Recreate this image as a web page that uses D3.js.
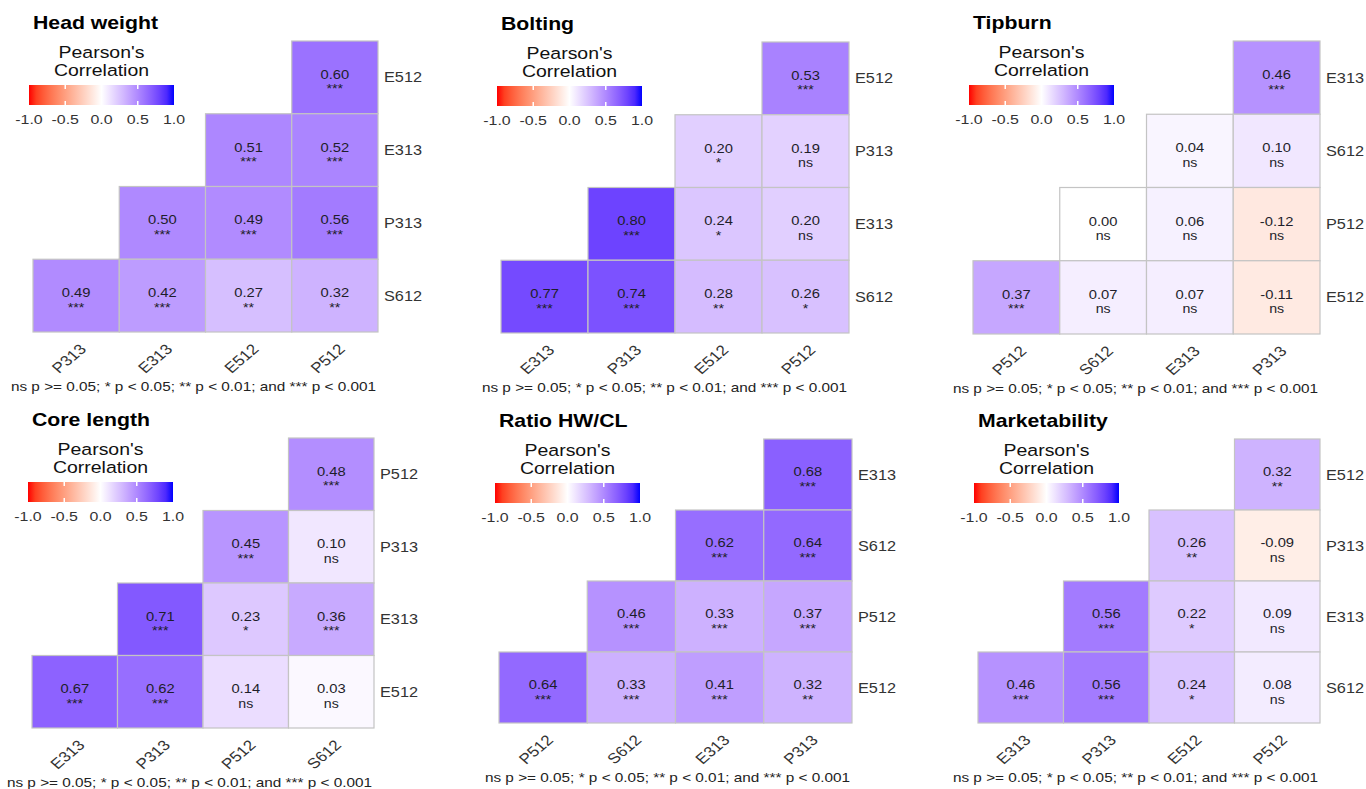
<!DOCTYPE html>
<html>
<head>
<meta charset="utf-8">
<script src="https://cdn.jsdelivr.net/npm/d3@7"></script>
<style>
  html, body { margin: 0; padding: 0; background: #fff; }
  svg { display: block; font-family: "Liberation Sans", Arial, sans-serif; }
</style>
</head>
<body>
<svg id="chart" width="1366" height="789"></svg>
<script>
// ---- Correlation data, one block per trait ----
// Values are listed row by row (top row first); row i holds the i+1 right-most cells.

const headWeightCols = ["P313", "E313", "E512", "P512"];
const headWeightRows = ["E512", "E313", "P313", "S612"];
const headWeightR = [[0.60], [0.51, 0.52], [0.50, 0.49, 0.56], [0.49, 0.42, 0.27, 0.32]];
const headWeightSig = [["***"], ["***", "***"], ["***", "***", "***"], ["***", "***", "**", "**"]];

const boltingCols = ["E313", "P313", "E512", "P512"];
const boltingRows = ["E512", "P313", "E313", "S612"];
const boltingR = [[0.53], [0.20, 0.19], [0.80, 0.24, 0.20], [0.77, 0.74, 0.28, 0.26]];
const boltingSig = [["***"], ["*", "ns"], ["***", "*", "ns"], ["***", "***", "**", "*"]];

const tipburnCols = ["P512", "S612", "E313", "P313"];
const tipburnRows = ["E313", "S612", "P512", "E512"];
const tipburnR = [[0.46], [0.04, 0.10], [0.00, 0.06, -0.12], [0.37, 0.07, 0.07, -0.11]];
const tipburnSig = [["***"], ["ns", "ns"], ["ns", "ns", "ns"], ["***", "ns", "ns", "ns"]];

const coreLengthCols = ["E313", "P313", "P512", "S612"];
const coreLengthRows = ["P512", "P313", "E313", "E512"];
const coreLengthR = [[0.48], [0.45, 0.10], [0.71, 0.23, 0.36], [0.67, 0.62, 0.14, 0.03]];
const coreLengthSig = [["***"], ["***", "ns"], ["***", "*", "***"], ["***", "***", "ns", "ns"]];

const ratioCols = ["P512", "S612", "E313", "P313"];
const ratioRows = ["E313", "S612", "P512", "E512"];
const ratioR = [[0.68], [0.62, 0.64], [0.46, 0.33, 0.37], [0.64, 0.33, 0.41, 0.32]];
const ratioSig = [["***"], ["***", "***"], ["***", "***", "***"], ["***", "***", "***", "**"]];

const marketCols = ["E313", "P313", "E512", "P512"];
const marketRows = ["E512", "P313", "E313", "S612"];
const marketR = [[0.32], [0.26, -0.09], [0.56, 0.22, 0.09], [0.46, 0.56, 0.24, 0.08]];
const marketSig = [["**"], ["**", "ns"], ["***", "*", "ns"], ["***", "***", "*", "ns"]];

const legendTicks = [-1.0, -0.5, 0.0, 0.5, 1.0];
const legendTitle = ["Pearson's", "Correlation"];
const footnote = "ns p >= 0.05; * p < 0.05; ** p < 0.01; and *** p < 0.001";

// ---- Panel list with the tile-grid box of each panel ----
const panels = [
  { title: "Head weight",  cols: headWeightCols, rows: headWeightRows, r: headWeightR, sig: headWeightSig, box: [33, 378, 41, 332] },
  { title: "Bolting",      cols: boltingCols,    rows: boltingRows,    r: boltingR,    sig: boltingSig,    box: [501, 849, 42, 333] },
  { title: "Tipburn",      cols: tipburnCols,    rows: tipburnRows,    r: tipburnR,    sig: tipburnSig,    box: [973, 1320, 41, 334] },
  { title: "Core length",  cols: coreLengthCols, rows: coreLengthRows, r: coreLengthR, sig: coreLengthSig, box: [32, 374, 438, 728] },
  { title: "Ratio HW/CL",  cols: ratioCols,      rows: ratioRows,      r: ratioR,      sig: ratioSig,      box: [499, 852, 439, 723] },
  { title: "Marketability",cols: marketCols,     rows: marketRows,     r: marketR,     sig: marketSig,     box: [978, 1320, 439, 723] }
];

const SX = 1.18;             // horizontal text stretch
const fmtVal = v => d3.format(".2f")(v).replace("\u2212", "-");
const fmtTick = v => d3.format(".1f")(v).replace("\u2212", "-");

const color = d3.scaleLinear()
  .domain([-1, 0, 1])
  .range(["#FF0000", "#FFFFFF", "#0000FF"])
  .interpolate(d3.interpolateLab);

const svg = d3.select("#chart");
const defs = svg.append("defs");

// shared colour-bar gradient
const grad = defs.append("linearGradient").attr("id", "corrGrad")
  .attr("x1", "0%").attr("x2", "100%").attr("y1", "0%").attr("y2", "0%");
d3.range(0, 1.0001, 0.05).forEach(t => {
  grad.append("stop").attr("offset", (t * 100) + "%").attr("stop-color", color(-1 + 2 * t));
});

function stretchedText(g, x, y, txt, extra) {
  return g.append("text")
    .attr("transform", `translate(${x},${y}) scale(${SX},1)` + (extra || ""))
    .text(txt);
}

panels.forEach(p => {
  const [x0, x1, y0, y1] = p.box;
  const g = svg.append("g");

  const x = d3.scaleBand().domain(p.cols).range([x0, x1]);
  const y = d3.scaleBand().domain(p.rows).range([y0, y1]);

  // flatten triangular rows into cells
  const n = p.cols.length;
  const cells = [];
  p.r.forEach((row, i) => {
    row.forEach((v, j) => {
      cells.push({ row: p.rows[i], col: p.cols[n - row.length + j], v: v, s: p.sig[i][j] });
    });
  });

  g.selectAll("rect.tile").data(cells).join("rect")
    .attr("class", "tile")
    .attr("x", d => x(d.col)).attr("y", d => y(d.row))
    .attr("width", x.bandwidth()).attr("height", y.bandwidth())
    .attr("fill", d => color(d.v))
    .attr("stroke", "#c4c4c4").attr("stroke-width", 1.2);

  cells.forEach(d => {
    const cx = x(d.col) + x.bandwidth() / 2;
    const cy = y(d.row) + y.bandwidth() / 2;
    stretchedText(g, cx, cy + 1.5, fmtVal(d.v))
      .attr("text-anchor", "middle").attr("font-size", 12.5).attr("fill", "#1e1e2a");
    stretchedText(g, cx, cy + 16, d.s)
      .attr("text-anchor", "middle").attr("font-size", 12).attr("fill", "#1e1e2a");
  });

  // right-hand row labels
  p.rows.forEach(rw => {
    stretchedText(g, x1 + 6, y(rw) + y.bandwidth() / 2 + 5, rw)
      .attr("font-size", 13.8).attr("fill", "#333");
  });

  // rotated column labels
  p.cols.forEach(c => {
    stretchedText(g, x(c) + x.bandwidth() / 2 + 11, y1 + 18, c, " rotate(-45)")
      .attr("text-anchor", "end").attr("font-size", 14.5).attr("fill", "#333");
  });

  // title
  stretchedText(g, x0, y0 - 12, p.title)
    .attr("font-size", 18).attr("font-weight", "bold").attr("fill", "#000");

  // legend
  const bx0 = x0 - 4, bx1 = bx0 + 145;
  const by0 = y0 + 44, by1 = y0 + 64;
  const lx = d3.scaleLinear().domain([-1, 1]).range([bx0, bx1]);
  const bcx = (bx0 + bx1) / 2;
  stretchedText(g, bcx, y0 + 17, legendTitle[0])
    .attr("text-anchor", "middle").attr("font-size", 16.5).attr("fill", "#111");
  stretchedText(g, bcx, y0 + 35, legendTitle[1])
    .attr("text-anchor", "middle").attr("font-size", 16.5).attr("fill", "#111");
  g.append("rect").attr("x", bx0).attr("y", by0)
    .attr("width", bx1 - bx0).attr("height", by1 - by0)
    .attr("fill", "url(#corrGrad)");
  legendTicks.filter(t => Math.abs(t) < 1).forEach(t => {
    g.append("line").attr("x1", lx(t)).attr("x2", lx(t)).attr("y1", by0).attr("y2", by0 + 4)
      .attr("stroke", "#fff").attr("stroke-width", 1.5);
    g.append("line").attr("x1", lx(t)).attr("x2", lx(t)).attr("y1", by1 - 4).attr("y2", by1)
      .attr("stroke", "#fff").attr("stroke-width", 1.5);
  });
  legendTicks.forEach(t => {
    stretchedText(g, lx(t), y0 + 83, fmtTick(t))
      .attr("text-anchor", "middle").attr("font-size", 13.5).attr("fill", "#333");
  });

  // significance footnote
  stretchedText(g, x1 - 2, y1 + 59, footnote)
    .attr("text-anchor", "end").attr("font-size", 13).attr("fill", "#222");
});
</script>
</body>
</html>
